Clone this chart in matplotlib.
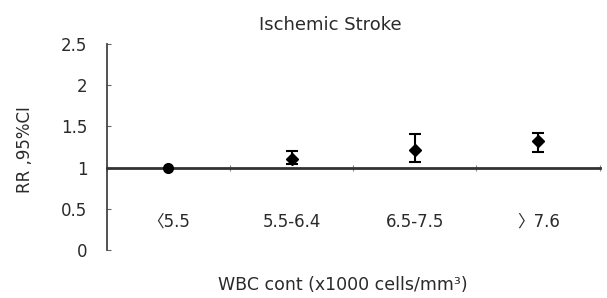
import matplotlib
matplotlib.use("Agg")
import matplotlib.pyplot as plt
import numpy as np

plt.rcParams['font.family'] = ['DejaVu Sans', 'Noto Sans CJK SC']

categories = ['\u30085.5', '5.5-6.4', '6.5-7.5', '\u30097.6']
rr = [1.0, 1.11, 1.22, 1.32]
ci_low = [1.0, 1.04, 1.07, 1.19]
ci_high = [1.0, 1.20, 1.41, 1.42]
y_ticks = [0, 0.5, 1, 1.5, 2, 2.5]
y_tick_labels = ['0', '0.5', '1', '1.5', '2', '2.5']

TXT = '#2a2a2a'

fig = plt.figure(figsize=(6.07, 2.98), dpi=100)
ax = fig.add_axes([0.176, 0.161, 0.812, 0.691])

x = np.arange(len(categories))
rr = np.array(rr)
yerr = np.array([rr - np.array(ci_low), np.array(ci_high) - rr])

# first group has no interval, just the reference point
ax.plot(x[:1], rr[:1], 'o', color='black', markersize=7, zorder=3)
ax.errorbar(x[1:], rr[1:], yerr=yerr[:, 1:], fmt='D', color='black',
            markersize=6, capsize=4, elinewidth=1.5, capthick=1.5, zorder=3)

ax.set_xlim(-0.5, len(categories) - 0.5)
ax.set_ylim(0, 2.5)

ax.spines['top'].set_visible(False)
ax.spines['right'].set_visible(False)
ax.spines['bottom'].set_position(('data', 1))
ax.spines['bottom'].set_linewidth(2.0)
ax.spines['bottom'].set_color('#333333')
ax.spines['left'].set_linewidth(1.3)
ax.spines['left'].set_color('#444444')

ax.set_yticks(y_ticks)
ax.set_yticklabels(y_tick_labels, fontsize=12, color=TXT)
ax.tick_params(axis='y', direction='in', length=3, pad=14, color='#666666')

ax.set_xticks(np.arange(len(categories) + 1) - 0.5)
ax.set_xticklabels([])
ax.tick_params(axis='x', direction='inout', length=4, color='#888888')

for xi, lab in zip(x, categories):
    ax.text(xi, 0.34, lab, ha='center', va='center', fontsize=12, color=TXT)

fig.text(0.041, 0.497, 'RR ,95%CI', rotation=90, ha='center', va='center',
         fontsize=12, color=TXT)
fig.text(0.544, 0.916, 'Ischemic Stroke', ha='center', va='center',
         fontsize=13, color=TXT)
fig.text(0.565, 0.044, 'WBC cont (x1000 cells/mm\u00b3)', ha='center', va='center',
         fontsize=12.5, color=TXT)

fig.savefig('out.png', dpi=100)
